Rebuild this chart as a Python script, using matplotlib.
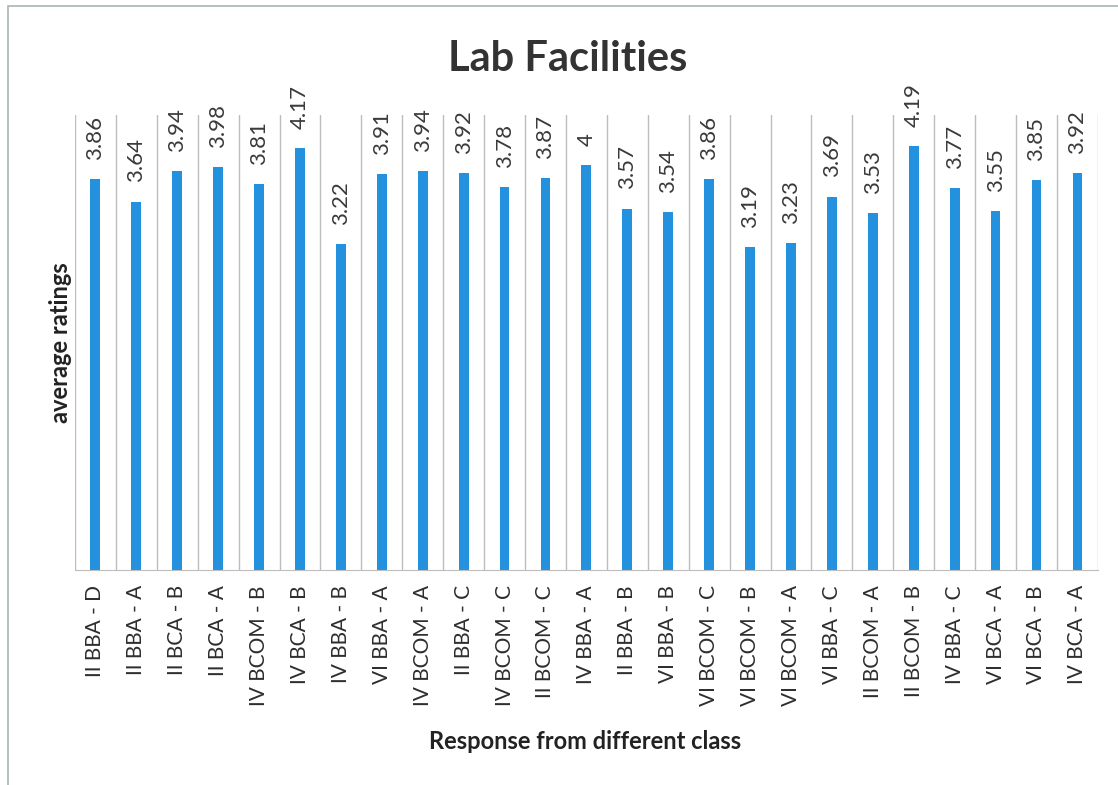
import matplotlib.pyplot as plt
import matplotlib.patches as mpatches
import numpy as np

# --- dados ---
classes = ['II BBA - D', 'II BBA - A', 'II BCA - B', 'II BCA - A', 'IV BCOM - B',
           'IV BCA - B', 'IV BBA - B', 'VI BBA - A', 'IV BCOM - A', 'II BBA - C',
           'IV BCOM - C', 'II BCOM - C', 'IV BBA - A', 'II BBA - B', 'VI BBA - B',
           'VI BCOM - C', 'VI BCOM - B', 'VI BCOM - A', 'VI BBA - C', 'II BCOM - A',
           'II BCOM - B', 'IV BBA - C', 'VI BCA - A', 'VI BCA - B', 'IV BCA - A']
medias = [3.86, 3.64, 3.94, 3.98, 3.81, 4.17, 3.22, 3.91, 3.94, 3.92, 3.78, 3.87, 4,
          3.57, 3.54, 3.86, 3.19, 3.23, 3.69, 3.53, 4.19, 3.77, 3.55, 3.85, 3.92]
rotulos = ['3.86', '3.64', '3.94', '3.98', '3.81', '4.17', '3.22', '3.91', '3.94', '3.92',
           '3.78', '3.87', '4', '3.57', '3.54', '3.86', '3.19', '3.23', '3.69', '3.53',
           '4.19', '3.77', '3.55', '3.85', '3.92']

plt.rcParams['font.family'] = ['Lato', 'DejaVu Sans']

fig = plt.figure(figsize=(11.18, 7.85), dpi=100)
ax = fig.add_axes([0.067, 0.274, 0.915, 0.58])

cor_barra = '#2391DD'
cor_grade = '#BDBDBD'
x = np.arange(len(classes))
ax.bar(x, medias, width=0.24, color=cor_barra)

# valor em cima de cada barra
for i, v in enumerate(medias):
    ax.text(i, v + 0.19, rotulos[i], rotation=90, ha='center', va='bottom',
            fontsize=16, color='#3A3A3A')

ax.set_xlim(-0.5, len(classes) - 0.5)
ax.set_ylim(0, 4.5)

# linhas verticais separando as categorias
for b in np.arange(-0.5, len(classes), 1.0):
    ax.axvline(b, color=cor_grade, linewidth=1, zorder=0)

for s in ['top', 'right', 'left']:
    ax.spines[s].set_visible(False)
ax.spines['bottom'].set_color(cor_grade)

ax.set_yticks([])
ax.set_xticks(x)
ax.set_xticklabels(classes, rotation=90, fontsize=15, color='#2E2E2E')
ax.tick_params(axis='x', length=0, pad=11)

fig.text(0.054, 0.564, 'average ratings', rotation=90, ha='center', va='center',
         fontsize=17, fontweight='bold', color='#222222')
fig.text(0.523, 0.055, 'Response from different class', ha='center', va='center',
         fontsize=17, fontweight='bold', color='#222222')
fig.text(0.508, 0.925, 'Lab Facilities', ha='center', va='center', fontsize=30,
         fontweight='bold', color='#333333')

# borda da area do grafico
fig.patches.append(mpatches.Rectangle((8 / 1118, -0.1), 1.2, 1.1 - 6 / 785,
                                      transform=fig.transFigure, fill=False,
                                      edgecolor='#A9B4B8', linewidth=1.2))

fig.savefig('out.png', dpi=100)
